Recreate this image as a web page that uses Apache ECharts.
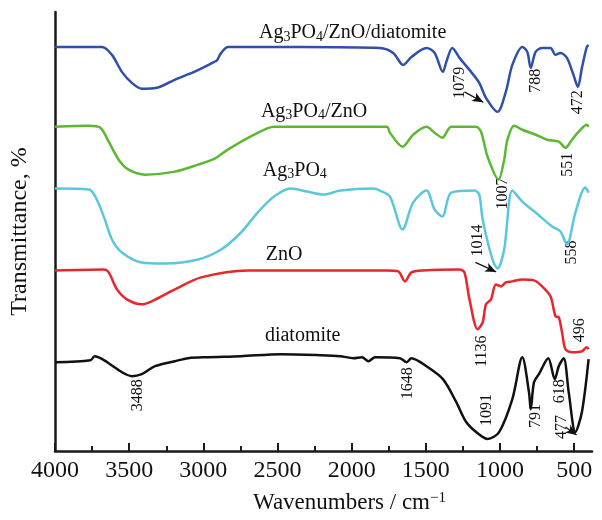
<!DOCTYPE html>
<html><head><meta charset="utf-8">
<script src="https://cdn.jsdelivr.net/npm/echarts@6/dist/echarts.min.js"></script>
<style>html,body{margin:0;padding:0;background:#fff}#c{width:602px;height:520px}</style>
</head><body><div id="c"></div>
<script>
// x-axis tick values (wavenumber, cm-1)
const majorTicks = [4000, 3500, 3000, 2500, 2000, 1500, 1000, 500];
const minorTicks = [3750, 3250, 2750, 2250, 1750, 1250, 750];

// Spectra: [wavenumber, transmittance (arbitrary, offset-stacked)]
const compositeData = [[4000,405],[3683,405],[3616,397],[3549,380],[3482,369],[3415,363],[3315,364],[3194,372],[3047,381],[2926,390],[2906,392],[2880,399],[2833,405],[2344,405],[1809,404],[1720,399],[1653,387],[1597,395],[1496,404],[1441,399],[1385,380],[1362,390],[1322,404],[1273,394],[1206,382],[1140,369],[1095,354],[1017,340],[961,360],[917,387],[850,405],[816,400],[793,384],[760,400],[716,404],[660,404],[626,397],[593,399],[549,394],[505,377],[475,365],[448,384],[415,405],[403,407]];
const agZnoData = [[4000,325],[3772,326],[3694,324],[3638,310],[3571,292],[3504,282],[3393,277],[3192,280],[3036,287],[2924,293],[2835,302],[2657,317],[2523,325],[1764,325],[1742,319],[1657,305],[1586,317],[1496,325],[1441,319],[1389,314],[1329,325],[1162,325],[1128,320],[1084,295],[1010,272],[972,292],[950,312],[905,326],[850,322],[760,317],[682,312],[604,310],[559,304],[515,312],[470,320],[415,327],[403,325]];
const agData = [[4000,263],[3772,262],[3728,255],[3671,235],[3616,212],[3549,199],[3415,189],[3259,188],[3036,192],[2880,202],[2746,219],[2634,239],[2523,255],[2411,263],[2299,260],[2188,257],[2077,261],[1854,263],[1809,261],[1742,255],[1657,222],[1586,249],[1496,261],[1441,242],[1389,235],[1329,259],[1173,261],[1140,257],[1117,232],[1051,192],[1017,183],[972,202],[917,261],[850,250],[760,239],[649,225],[593,220],[549,207],[492,239],[425,264],[403,259]];
const znoData = [[4000,181],[3671,182],[3638,179],[3582,162],[3515,152],[3415,147],[3348,150],[3192,162],[3015,174],[2701,181],[1764,181],[1686,180],[1641,170],[1597,179],[1519,181],[1273,182],[1240,179],[1206,152],[1151,122],[1117,129],[1095,147],[1061,152],[1028,167],[994,165],[961,169],[917,170],[850,172],[771,171],[716,165],[660,155],[626,135],[604,134],[582,119],[559,102],[515,99],[448,100],[415,104],[403,102]];
const diatomiteData = [[4000,89],[3761,91],[3732,95],[3694,93],[3638,88],[3549,79],[3482,75],[3415,77],[3326,85],[3192,90],[3102,93],[2969,94],[2746,95],[2478,97],[2210,96],[2077,95],[1987,93],[1931,94],[1887,90],[1842,94],[1675,93],[1630,89],[1597,93],[1496,85],[1385,72],[1295,49],[1228,29],[1161,19],[1084,12],[1006,19],[917,52],[850,94],[805,59],[793,42],[771,69],[738,77],[675,93],[631,72],[604,85],[571,93],[537,59],[492,19],[448,39],[403,92]];

// Series names (rich text for subscripts) and where they sit, in data coords
const seriesLabels = [
  {text: 'Ag{s|3}PO{s|4}/ZnO/diatomite', at: [2625, 419]},
  {text: 'Ag{s|3}PO{s|4}/ZnO', at: [2612, 340]},
  {text: 'Ag{s|3}PO{s|4}', at: [2599, 281]},
  {text: 'ZnO', at: [2579, 197]},
  {text: 'diatomite', at: [2585, 116]}
];
// Peak annotations (rotated), centre position in data coords
const peakLabels = [
  {text:'3488', at:[3442,56]}, {text:'1648', at:[1621,68]}, {text:'1091', at:[1086,41]},
  {text:'791', at:[758,35]}, {text:'618', at:[597,60]}, {text:'477', at:[584,24]},
  {text:'1136', at:[1126,100]}, {text:'496', at:[463,121]},
  {text:'1014', at:[1153,211]}, {text:'558', at:[517,199]},
  {text:'1007', at:[979,258]}, {text:'551', at:[544,287]},
  {text:'1079', at:[1273,369]}, {text:'788', at:[758,371]}, {text:'472', at:[477,349.5]}
];
// Arrows: [from, to] in data coords
const arrows = {
  composite: [[1240,360],[1113,349.5]],
  ag: [[1166,189],[1026,179.5]],
  diatomite: [[559,24],[484,16]]
};

const FONT = '"Liberation Serif","Times New Roman",serif';
const chart = echarts.init(document.getElementById('c'));

function arrowLine(a){
  return {
    silent: true, animation: false,
    symbol: ['none','arrow'], symbolSize: [7,11],
    lineStyle: {color:'#111', width: 1.3, type:'solid'},
    label: {show:false},
    data: [[{coord: a[0]}, {coord: a[1]}]]
  };
}
function spec(name, data, color, arrow){
  const s = {
    name, type:'line', data, showSymbol:false, smooth:0.3,
    lineStyle:{color, width:2.5}, itemStyle:{color}, z:3
  };
  if (arrow) s.markLine = arrowLine(arrow);
  return s;
}

chart.setOption({
  animation: false,
  backgroundColor: '#fff',
  grid: {left:52, right:10, top:12, bottom:68},
  xAxis: [{
    type:'value', min:380, max:4000, inverse:true,
    axisLine:{onZero:false, lineStyle:{color:'#1a1a1a', width:2.5}},
    axisTick:{inside:true, length:8, customValues: majorTicks, lineStyle:{color:'#1a1a1a', width:2}},
    axisLabel:{customValues: majorTicks, formatter: v => String(v), fontFamily:FONT, fontSize:24, color:'#111', margin:8},
    splitLine:{show:false},
    name:'Wavenumbers / cm{u|−1}', nameLocation:'middle', nameGap:40,
    nameTextStyle:{fontFamily:FONT, fontSize:23, color:'#111', padding:[0,0,0,52], lineHeight:24,
      rich:{u:{fontFamily:FONT, fontSize:15, verticalAlign:'top', lineHeight:12}}}
  },{
    type:'value', min:380, max:4000, inverse:true, position:'bottom',
    axisLine:{show:false},
    axisTick:{inside:true, length:5, customValues: minorTicks, lineStyle:{color:'#1a1a1a', width:2}},
    axisLabel:{show:false}, splitLine:{show:false}
  }],
  yAxis: {
    type:'value', min:0, max:440,
    axisLine:{show:true, onZero:false, lineStyle:{color:'#1a1a1a', width:2.5}},
    axisTick:{show:false}, axisLabel:{show:false}, splitLine:{show:false},
    name:'Transmittance, %', nameLocation:'middle', nameRotate:90, nameGap:23,
    nameTextStyle:{fontFamily:FONT, fontSize:24, color:'#111'}
  },
  series: [
    spec('Ag3PO4/ZnO/diatomite', compositeData, '#2f4fa8', arrows.composite),
    spec('Ag3PO4/ZnO', agZnoData, '#5cb833'),
    spec('Ag3PO4', agData, '#5cc6da', arrows.ag),
    spec('ZnO', znoData, '#e8262b'),
    spec('diatomite', diatomiteData, '#111111', arrows.diatomite)
  ]
});

const toPx = p => chart.convertToPixel({xAxisIndex:0, yAxisIndex:0}, p);
const graphics = [];
seriesLabels.forEach(l => {
  const p = toPx(l.at);
  graphics.push({
    type:'text', x:p[0], y:p[1], silent:true,
    style:{text:l.text, fontFamily:FONT, fontSize:20, fill:'#111', align:'left', verticalAlign:'middle',
      lineHeight:22,
      rich:{s:{fontFamily:FONT, fontSize:14, verticalAlign:'bottom', lineHeight:6, fill:'#111'}}}
  });
});
peakLabels.forEach(l => {
  const p = toPx(l.at);
  graphics.push({
    type:'text', x:p[0], y:p[1], rotation:Math.PI/2, silent:true,
    style:{text:l.text, fontFamily:FONT, fontSize:16, fill:'#111', align:'center', verticalAlign:'middle'}
  });
});
chart.setOption({graphic: graphics});
</script>
</body></html>
